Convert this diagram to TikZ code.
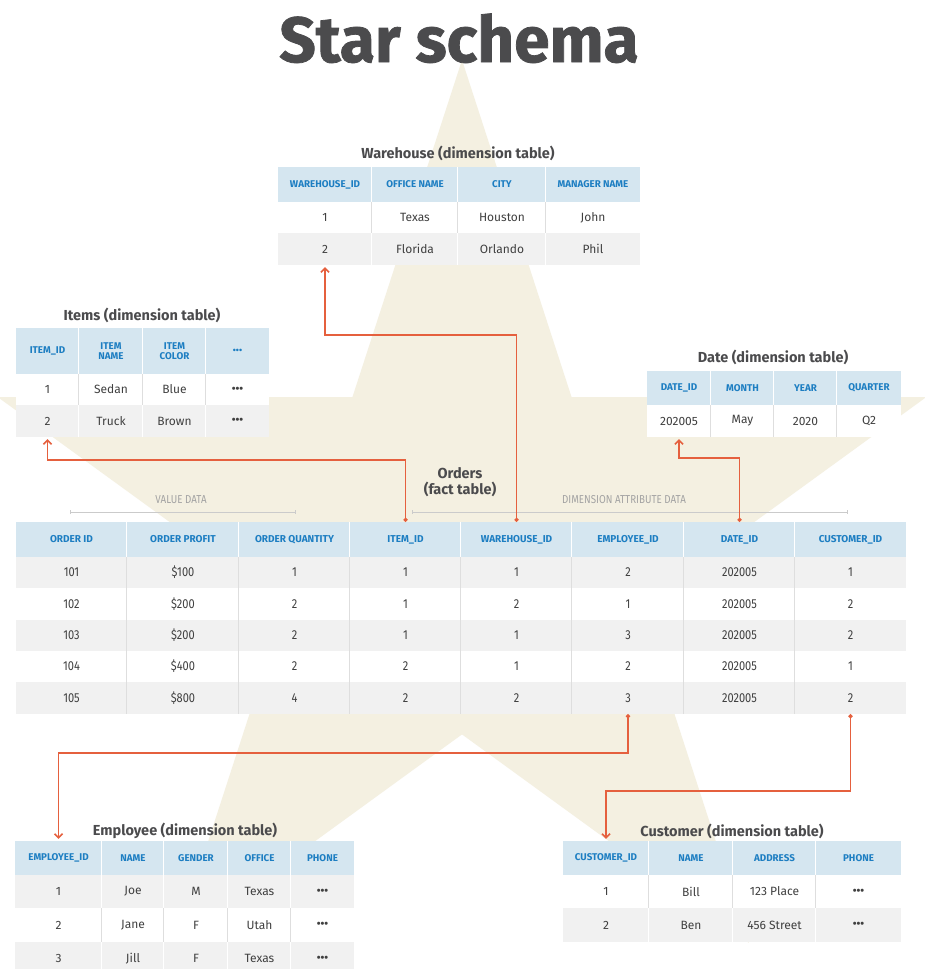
\documentclass[tikz,border=0pt]{standalone}
\usepackage{fontspec}
\setmainfont{Fira Sans}
\newfontfamily\condfont{Fira Sans}[FakeStretch=0.85]
\newfontfamily\titlefont{Fira Sans}[BoldFeatures={FakeBold=1.2}]
\usetikzlibrary{arrows.meta,calc}
\definecolor{cream}{HTML}{F4F0E1}
\definecolor{hdrfill}{HTML}{D5E6F0}
\definecolor{hdrtext}{HTML}{1D7EC2}
\definecolor{bodytext}{HTML}{404040}
\definecolor{rowgray}{HTML}{F1F1F1}
\definecolor{sepgray}{HTML}{DEDEDE}
\definecolor{titlegray}{HTML}{4B4B4D}
\definecolor{conn}{HTML}{E5603E}
\definecolor{labgray}{HTML}{A3A3A3}
\newcommand\mkrow[7]{%
  \foreach \t [count=\i] in {#7}{%
    \pgfmathsetmacro\xa{{#2}[\i-1]}%
    \pgfmathsetmacro\xb{{#2}[\i]}%
    \pgfmathsetmacro\w{\xb-\xa}%
    \pgfmathsetmacro\h{#4-#3}%
    \node[#5, minimum width=\w pt, minimum height=\h pt] (#1-\i) at ({(\xa+\xb)/2},{(#3+#4)/2}) {\t};
    \ifnum\i>1 \draw[draw=#6, line width=1pt] (#1-\i.north west) -- (#1-\i.south west);\fi
  }}
\newcommand\mydots{{\fontsize{11}{11}\selectfont\bfseries •••}}
\tikzset{
  hcell/.style={fill=hdrfill, inner sep=0pt, text=hdrtext, font=\fontsize{9.8}{10.5}\selectfont\bfseries, align=center},
  ohcell/.style={fill=hdrfill, inner sep=0pt, text=hdrtext, font=\fontsize{10}{11}\selectfont\bfseries, align=center},
  wcell/.style={fill=white, inner sep=0pt, text=bodytext, font=\fontsize{12}{14}\selectfont},
  gcell/.style={fill=rowgray, inner sep=0pt, text=bodytext, font=\fontsize{12}{14}\selectfont},
  owcell/.style={fill=white, inner sep=0pt, text=bodytext, font=\condfont\fontsize{13}{14}\selectfont},
  ogcell/.style={fill=rowgray, inner sep=0pt, text=bodytext, font=\condfont\fontsize{13}{14}\selectfont},
  ttl/.style={text=titlegray, font=\fontsize{14.5}{16}\selectfont\bfseries, align=center},
  link/.style={draw=conn, line width=1.5pt, {Circle[length=4pt]}-{Straight Barb[length=4pt,width=8pt]}, shorten >=2pt},
  grp/.style={draw=sepgray!80!gray, line width=1pt, {Bar[width=4pt]}-{Bar[width=4pt]}},
  grplab/.style={text=labgray, font=\condfont\fontsize{11.5}{13}\selectfont},
}
\begin{document}
\begin{tikzpicture}[x=1pt,y=-1pt]
\useasboundingbox (0,0) rectangle (924,969);
\fill[white] (0,0) rectangle (924,969);
% star
\fill[cream] (462,60) -- (352.4,397.2) -- (-2.1,397.2) -- (284.7,605.6) -- (175.2,942.8) -- (462,734.4) -- (748.8,942.8) -- (639.3,605.6) -- (926.1,397.2) -- (571.6,397.2) -- cycle;
% title
\node[text=titlegray, font=\titlefont\fontsize{64}{70}\selectfont\bfseries, anchor=base] (title) at (459,62) {Star schema};
% Warehouse
\node[ttl] (wt) at (458,153) {Warehouse (dimension table)};
\mkrow{w-h}{278,372,458,546,640}{167}{202}{hcell}{white}{WAREHOUSE\_ID,OFFICE NAME,CITY,MANAGER NAME}
\mkrow{w-1}{278,372,458,546,640}{202}{233}{wcell}{sepgray}{1,Texas,Houston,John}
\mkrow{w-2}{278,372,458,546,640}{233}{265}{gcell}{white}{2,Florida,Orlando,Phil}
% Items
\node[ttl] (it) at (142,315) {Items (dimension table)};
\mkrow{i-h}{16,79,143,206,269}{328}{374}{hcell}{white}{ITEM\_ID,ITEM\\NAME,ITEM\\COLOR,{\fontsize{9}{9}\selectfont\bfseries •••}}
\mkrow{i-1}{16,79,143,206,269}{374}{405}{wcell}{sepgray}{1,Sedan,Blue,\mydots}
\mkrow{i-2}{16,79,143,206,269}{405}{437}{gcell}{white}{2,Truck,Brown,\mydots}
% Date
\node[ttl] (dt) at (773,357) {Date (dimension table)};
\mkrow{d-h}{647,711,774,837,901}{371}{405}{hcell}{white}{DATE\_ID,MONTH,YEAR,QUARTER}
\mkrow{d-1}{647,711,774,837,901}{405}{437}{wcell}{sepgray}{202005,May,2020,Q2}
% Orders
\node[ttl, font=\fontsize{14.5}{16}\selectfont\bfseries] (ot) at (460,482) {Orders\\(fact table)};
\node[grplab] (vl) at (181,500) {VALUE DATA};
\node[grplab] (dl) at (624,500) {DIMENSION ATTRIBUTE DATA};
\coordinate (v1) at (70,512); \coordinate (v2) at (296,512);
\coordinate (d1) at (412,512); \coordinate (d2) at (848,512);
\draw[grp] (v1) -- (v2);
\draw[grp] (d1) -- (d2);
\def\ocols{16,127,239,350,461,572,684,795,906}
\mkrow{o-h}{\ocols}{522}{557}{ohcell}{white}{ORDER ID,ORDER PROFIT,ORDER QUANTITY,ITEM\_ID,WAREHOUSE\_ID,EMPLOYEE\_ID,DATE\_ID,CUSTOMER\_ID}
\mkrow{o-1}{\ocols}{557}{588}{ogcell}{sepgray}{101,\$100,1,1,1,2,202005,1}
\mkrow{o-2}{\ocols}{588}{620}{owcell}{sepgray}{102,\$200,2,1,2,1,202005,2}
\mkrow{o-3}{\ocols}{620}{651}{ogcell}{sepgray}{103,\$200,2,1,1,3,202005,2}
\mkrow{o-4}{\ocols}{651}{682}{owcell}{sepgray}{104,\$400,2,2,1,2,202005,1}
\mkrow{o-5}{\ocols}{682}{714}{ogcell}{sepgray}{105,\$800,4,2,2,3,202005,2}
% Employee
\node[ttl] (et) at (185,831) {Employee (dimension table)};
\mkrow{e-h}{15,102,164,228,291,354}{841}{875}{hcell}{white}{EMPLOYEE\_ID,NAME,GENDER,OFFICE,PHONE}
\mkrow{e-1}{15,102,164,228,291,354}{875}{908}{gcell}{white}{1,Joe,M,Texas,\mydots}
\mkrow{e-2}{15,102,164,228,291,354}{908}{942}{wcell}{sepgray}{2,Jane,F,Utah,\mydots}
\mkrow{e-3}{15,102,164,228,291,354}{942}{975}{gcell}{white}{3,Jill,F,Texas,\mydots}
% Customer
\node[ttl] (ct) at (732,831) {Customer (dimension table)};
\mkrow{c-h}{563,649,733,816,901}{841}{875}{hcell}{white}{CUSTOMER\_ID,NAME,ADDRESS,PHONE}
\mkrow{c-1}{563,649,733,816,901}{875}{908}{wcell}{sepgray}{1,Bill,123 Place,\mydots}
\mkrow{c-2}{563,649,733,816,901}{908}{942}{gcell}{white}{2,Ben,456 Street,\mydots}
% connectors
\draw[link] (o-h-4.north) -- ++(0,-62) -| (i-2-1.south);
\draw[link] (o-h-5.north) -- ++(0,-187) -| (w-2-1.south);
\draw[link] (o-h-7.north) -- ++(0,-64) -| (d-1-1.south);
\draw[link] (o-5-6.south) -- ++(0,39) -| (e-h-1.north);
\draw[link] (o-5-8.south) -- ++(0,77) -| (c-h-1.north);
\end{tikzpicture}
\end{document}
